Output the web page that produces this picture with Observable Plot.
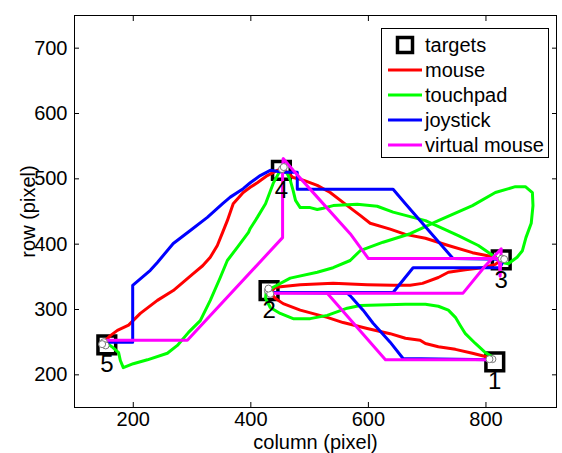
<!DOCTYPE html>
<html><head><meta charset="utf-8">
<script src="https://cdn.jsdelivr.net/npm/d3@7"></script>
<script src="https://cdn.jsdelivr.net/npm/@observablehq/plot@0.6"></script>
<style>body{margin:0;background:#fff} svg{display:block}</style>
</head><body><div id="chart"></div>
<script>
// ---- data ----
const xTicks = [200, 400, 600, 800];
const yTicks = [200, 300, 400, 500, 600, 700];
const xLabel = "column (pixel)";
const yLabel = "row (pixel)";

const targetIds = ["1", "2", "3", "4", "5"];
const targetX = [815, 431, 826, 452, 155];
const targetY = [220, 329, 376, 513, 246];

const seriesNames = ["mouse", "touchpad", "joystick", "virtual mouse"];
const seriesColors = ["#ff0000", "#00ff00", "#0000ff", "#ff00ff"];
const legendTargets = "targets";

const mouseX = [811,804,777,748,719,697,688,663,637,598,557,530,484,455,442,433,
  442,484,540,598,642,671,692,719,736,765,794,816,823,
  816,777,736,697,663,637,603,586,564,535,513,489,472,462,454,
  445,428,411,399,387,370,360,352,343,331,318,302,268,241,212,192,173,161,150];
const mouseY = [224,227,233,239,243,248,253,256,263,271,280,288,299,309,317,326,
  334,338,340,338,337,337,340,349,357,361,364,369,374,
  380,387,398,409,415,423,432,444,459,479,490,498,502,510,514,
  513,505,494,487,479,462,436,418,398,380,367,355,329,314,294,276,268,260,250];

const touchpadX = [812,799,782,765,756,748,736,719,697,663,586,564,530,501,472,450,433,425,426,
  438,467,513,540,569,586,625,671,719,777,816,850,867,879,880,877,868,862,853,838,828,
  816,787,753,726,697,663,642,615,581,540,523,513,501,484,476,472,467,462,454,
  450,438,425,411,399,396,377,360,348,331,314,294,275,258,224,200,183,178,175,165,156];
const touchpadY = [227,234,248,263,276,288,299,305,308,308,306,302,291,286,286,294,303,317,326,
  334,348,357,364,375,390,403,416,436,459,479,488,488,479,459,432,410,390,380,370,372,
  380,398,413,424,436,444,449,458,461,459,455,453,456,456,467,482,498,508,513,
  513,493,462,441,424,418,395,375,349,314,283,265,245,233,223,217,211,222,234,242,248];

const joystickX = [811,659,637,608,591,569,564,438,
  642,676,824,828,
  824,744,663,642,479,479,455,
  433,416,399,387,365,352,326,297,268,241,229,199,199,161,152];
const joystickY = [223,225,250,279,299,321,325,326,
  326,364,364,372,
  377,378,462,484,484,510,510,
  513,505,494,485,472,462,441,421,401,372,360,337,250,250,248];

const virtualX = [811,629,530,438,761,799,826,824,823,819,600,569,513,472,455,454,454,292,155];
const virtualY = [223,223,325,325,325,367,393,351,372,378,378,416,472,513,531,513,410,253,253];

const clickX = [811,806,429,433,430,827,831,453,456,150,153,147];
const clickY = [224,224,329,324,332,378,377,515,518,250,245,247];

// ---- tables ----
const targets = targetIds.map((id, i) => ({id, x: targetX[i], y: targetY[i]}));
const seriesXs = [mouseX, touchpadX, joystickX, virtualX];
const seriesYs = [mouseY, touchpadY, joystickY, virtualY];
const paths = seriesNames.flatMap((name, s) =>
  seriesXs[s].map((x, i) => ({series: name, x, y: seriesYs[s][i]})));
const clicks = clickX.map((x, i) => ({x, y: clickY[i]}));

const font = "'Liberation Sans', Arial, Helvetica, sans-serif";
const fs = 20;

const plot = Plot.plot({
  width: 562, height: 453,
  marginLeft: 74, marginRight: 6, marginTop: 15, marginBottom: 46,
  x: {domain: [100, 920]},
  y: {domain: [150, 750]},
  color: {domain: seriesNames, range: seriesColors},
  style: {fontFamily: font, fontSize: fs + "px", color: "black", background: "white", overflow: "visible"},
  marks: [
    Plot.dot(targets, {x: "x", y: "y", symbol: "square", r: 10, stroke: "black", strokeWidth: 3.5, fill: "none"}),
    Plot.line(paths, {x: "x", y: "y", z: "series", stroke: "series", strokeWidth: 3, strokeLinejoin: "round", strokeLinecap: "round"}),
    Plot.dot(clicks, {x: "x", y: "y", r: 3.5, fill: "white", stroke: "#777", strokeWidth: 1}),
    Plot.text(targets, {x: "x", y: "y", text: "id", dy: 20, fontSize: 24, fill: "black"}),
    Plot.frame({stroke: "black", strokeWidth: 1}),
    Plot.axisX({ticks: xTicks, anchor: "bottom", tickSize: 0, tickPadding: 4, label: null, fontSize: fs}),
    Plot.axisX({ticks: xTicks, anchor: "bottom", tickSize: 5, dy: -5, fill: "none", label: null}),
    Plot.axisX({ticks: xTicks, anchor: "top", tickSize: 5, dy: 5, fill: "none", label: null}),
    Plot.axisY({ticks: yTicks, anchor: "left", tickSize: 0, tickPadding: 7, label: null, fontSize: fs}),
    Plot.axisY({ticks: yTicks, anchor: "left", tickSize: 5, dx: 5, fill: "none", label: null}),
    Plot.axisY({ticks: yTicks, anchor: "right", tickSize: 5, dx: -5, fill: "none", label: null}),
    Plot.text([xLabel], {frameAnchor: "bottom", lineAnchor: "middle", textAnchor: "middle", dy: 35, text: d => d, fontSize: fs, fill: "black"}),
    Plot.text([yLabel], {frameAnchor: "left", lineAnchor: "middle", textAnchor: "middle", dx: -46, rotate: -90, text: d => d, fontSize: fs, fill: "black"})
  ]
});

// ---- legend ----
const svg = d3.select(plot);
const lg = svg.append("g").attr("font-family", font).attr("font-size", fs).attr("text-anchor", "start");
lg.append("rect").attr("x", 381.5).attr("y", 28.5).attr("width", 167).attr("height", 129)
  .attr("fill", "white").attr("stroke", "black").attr("stroke-width", 1);
const entries = [legendTargets, ...seriesNames];
entries.forEach((name, i) => {
  const cy = 45 + i * 25;
  if (i === 0) {
    lg.append("rect").attr("x", 397.5).attr("y", cy - 7.5).attr("width", 15).attr("height", 15)
      .attr("fill", "none").attr("stroke", "black").attr("stroke-width", 3.5);
  } else {
    lg.append("line").attr("x1", 388).attr("x2", 422).attr("y1", cy).attr("y2", cy)
      .attr("stroke", seriesColors[i - 1]).attr("stroke-width", 3);
  }
  lg.append("text").attr("x", 425).attr("y", cy).attr("dy", "0.35em")
    .attr("text-anchor", "start").attr("fill", "black").text(name);
});

document.getElementById("chart").appendChild(plot);
</script>
</body></html>
